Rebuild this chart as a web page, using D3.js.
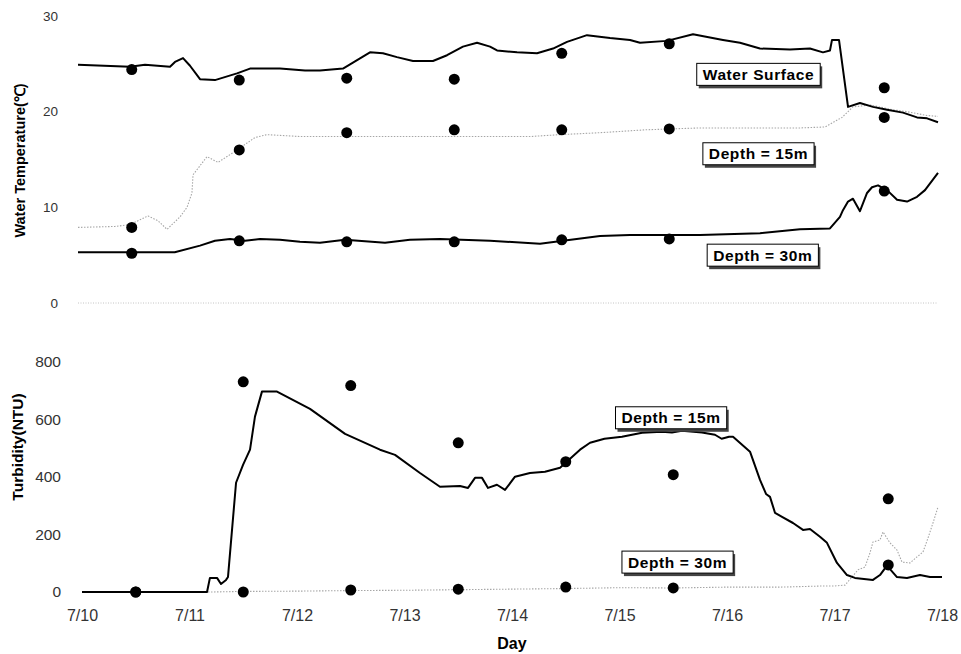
<!DOCTYPE html>
<html>
<head>
<meta charset="utf-8">
<script src="https://cdn.jsdelivr.net/npm/d3@7"></script>
<style>
  body { margin: 0; background: #fff; }
  svg { display: block; }
  text { font-family: Arial, "Liberation Sans", sans-serif; }
</style>
</head>
<body>
<svg id="chart" width="961" height="654"></svg>
<script>
// ---- axis labels ----
const dayLabels = ["7/10", "7/11", "7/12", "7/13", "7/14", "7/15", "7/16", "7/17", "7/18"];
const tempTicks = [0, 10, 20, 30];
const turbTicks = [0, 200, 400, 600, 800];

// ---- continuous records: [days since 7/10 00:00, value] ----
const surfaceTemp = [
  [0, 24.9], [0.484, 24.7], [0.623, 24.9], [0.856, 24.7], [0.902, 25.2], [0.977, 25.6],
  [1.042, 24.8], [1.135, 23.4], [1.274, 23.3], [1.479, 24.0], [1.6, 24.5], [1.879, 24.5],
  [2.112, 24.3], [2.251, 24.3], [2.465, 24.5], [2.716, 26.2], [2.837, 26.1], [2.967, 25.7],
  [3.116, 25.3], [3.302, 25.3], [3.433, 25.9], [3.581, 26.8], [3.712, 27.2], [3.833, 26.8],
  [3.898, 26.4], [4.084, 26.2], [4.27, 26.1], [4.419, 26.6], [4.549, 27.3], [4.735, 28.0],
  [4.949, 27.7], [5.135, 27.5], [5.228, 27.2], [5.479, 27.4], [5.721, 28.1], [6.0, 27.5],
  [6.158, 27.2], [6.344, 26.6], [6.623, 26.5], [6.809, 26.6], [6.93, 26.2], [6.995, 26.4],
  [7.014, 27.5], [7.079, 27.5], [7.163, 20.5], [7.274, 20.9], [7.395, 20.5], [7.526, 20.2],
  [7.674, 19.9], [7.805, 19.4], [7.898, 19.3], [8.0, 18.9]
];
const temp15m = [
  [0, 7.9], [0.344, 8.0], [0.484, 8.2], [0.651, 9.1], [0.744, 8.6], [0.828, 7.7],
  [0.949, 9.0], [1.014, 10.0], [1.06, 11.5], [1.07, 13.4], [1.2, 15.3], [1.302, 14.7],
  [1.44, 15.7], [1.647, 17.3], [1.758, 17.6], [2.065, 17.4], [3.181, 17.4], [4.205, 17.4],
  [4.484, 17.6], [4.856, 17.8], [5.274, 18.1], [5.786, 18.3], [6.716, 18.3], [6.95, 18.4],
  [7.107, 19.4], [7.209, 20.5], [7.372, 20.7], [7.581, 20.2], [7.712, 20.0], [7.898, 19.6],
  [8.0, 19.5]
];
const temp30m = [
  [0, 5.3], [0.9, 5.3], [1.135, 6.0], [1.274, 6.5], [1.414, 6.7], [1.553, 6.5],
  [1.693, 6.7], [1.879, 6.6], [2.065, 6.4], [2.251, 6.3], [2.484, 6.6], [2.856, 6.3],
  [3.088, 6.6], [3.367, 6.7], [3.833, 6.5], [4.298, 6.2], [4.512, 6.5], [4.856, 7.0],
  [5.135, 7.1], [5.786, 7.1], [6.344, 7.3], [6.716, 7.7], [6.995, 7.8], [7.088, 9.0],
  [7.116, 9.7], [7.163, 10.6], [7.209, 10.9], [7.274, 9.6], [7.34, 11.5], [7.386, 12.1],
  [7.442, 12.3], [7.526, 11.8], [7.619, 10.8], [7.712, 10.6], [7.805, 11.1], [7.879, 11.8],
  [8.0, 13.6]
];
const turb15m = [
  [0, 0], [1.163, 0], [1.19, 49], [1.256, 49], [1.293, 28], [1.34, 42], [1.358, 52],
  [1.433, 380], [1.498, 442], [1.563, 495], [1.609, 610], [1.674, 697], [1.814, 697],
  [2.121, 637], [2.447, 550], [2.772, 495], [2.912, 477], [3.144, 414], [3.33, 366],
  [3.516, 369], [3.591, 362], [3.656, 397], [3.721, 397], [3.777, 362], [3.86, 373],
  [3.935, 355], [4.028, 401], [4.167, 414], [4.307, 418], [4.447, 432], [4.633, 495],
  [4.726, 519], [4.86, 533], [5.023, 540], [5.21, 554], [5.395, 557], [5.488, 555],
  [5.581, 561], [5.767, 555], [5.888, 547], [5.95, 533], [6.019, 540], [6.056, 540],
  [6.214, 488], [6.307, 390], [6.363, 341], [6.4, 331], [6.447, 275], [6.512, 261],
  [6.614, 240], [6.707, 216], [6.772, 219], [6.865, 192], [6.93, 171], [7.023, 101],
  [7.116, 59], [7.19, 49], [7.358, 42], [7.423, 59], [7.488, 92], [7.581, 52],
  [7.674, 49], [7.795, 59], [7.888, 52], [8.0, 52]
];
const turb30m = [
  [0, 0], [1.2, 0], [1.5, 2], [2.0, 3], [2.5, 5], [3.0, 6], [3.5, 8], [4.0, 10],
  [4.5, 12], [5.0, 15], [5.5, 14], [6.0, 17], [6.5, 17], [6.9, 21], [7.0, 21],
  [7.098, 24], [7.219, 77], [7.284, 87], [7.33, 136], [7.358, 174], [7.423, 181],
  [7.451, 209], [7.516, 171], [7.581, 146], [7.628, 104], [7.702, 101], [7.767, 122],
  [7.823, 139], [7.87, 188], [7.916, 240], [7.963, 296]
];

// ---- sampled measurements ----
const sampleDays = [0.5, 1.5, 2.5, 3.5, 4.5, 5.5, 7.5];
const surfaceSampled = [24.4, 23.3, 23.5, 23.4, 26.1, 27.1, 22.5];
const temp15mSampled = [7.9, 16.0, 17.8, 18.1, 18.1, 18.2, 19.4];
const temp30mSampled = [5.2, 6.5, 6.4, 6.4, 6.6, 6.7, 11.7];
const turb15mSampled = [0, 731, 718, 519, 453, 408, 324];
const turb30mSampled = [0, 0, 7, 10, 17, 14, 94];

const svg = d3.select("#chart");

// ---- scales ----
const xTop = d3.scaleLinear().domain([0, 8]).range([78, 938]);
const yTop = d3.scaleLinear().domain([0, 30]).range([303, 16]);
const xBot = d3.scaleLinear().domain([0, 8]).range([82, 942]);
const yBot = d3.scaleLinear().domain([0, 800]).range([592, 362]);

function drawLine(g, data, x, y, style) {
  const line = d3.line().x(d => x(d[0])).y(d => y(d[1])).curve(d3.curveLinear);
  g.append("path").datum(data)
    .attr("d", line)
    .attr("fill", "none")
    .attr("stroke", style.color)
    .attr("stroke-width", style.width)
    .attr("stroke-dasharray", style.dash || null)
    .attr("stroke-linejoin", "round");
}

function drawDots(g, days, values, x, y) {
  g.selectAll(null).data(days.map((d, i) => [d, values[i]])).enter()
    .append("circle")
    .attr("cx", d => x(d[0]))
    .attr("cy", d => y(d[1]))
    .attr("r", 5.5)
    .attr("fill", "#000");
}

// boxed series label with a dark drop shadow
function drawTag(parent, cx, cy, label, size) {
  const g = parent.append("g");
  const shadow = g.append("rect").attr("fill", "#444");
  const box = g.append("rect").attr("fill", "#fff").attr("stroke", "#000").attr("stroke-width", 1);
  const t = g.append("text")
    .attr("x", cx).attr("y", cy)
    .attr("text-anchor", "middle")
    .attr("dominant-baseline", "central")
    .attr("font-size", size)
    .attr("font-weight", "bold")
    .attr("letter-spacing", 0.6)
    .attr("fill", "#000")
    .text(label);
  const bb = t.node().getBBox();
  const padX = 6, w = bb.width + padX * 2, h = 22;
  shadow.attr("x", cx - w / 2 + 2).attr("y", cy - h / 2 + 3).attr("width", w).attr("height", h);
  box.attr("x", cx - w / 2).attr("y", cy - h / 2).attr("width", w).attr("height", h);
}

// ================= Water temperature panel =================
const tempPanel = svg.append("g");

// faint zero reference line
tempPanel.append("line")
  .attr("x1", xTop(0)).attr("x2", xTop(8))
  .attr("y1", yTop(0)).attr("y2", yTop(0))
  .attr("stroke", "#c4c4c4").attr("stroke-width", 1)
  .attr("stroke-dasharray", "1,1.5");

const yAxisTop = d3.axisLeft(yTop).tickValues(tempTicks).tickSize(0).tickPadding(20);
tempPanel.append("g").attr("transform", `translate(${xTop(0)},0)`).call(yAxisTop)
  .call(g => g.select(".domain").remove())
  .call(g => g.selectAll("text").attr("font-size", 13.5).attr("fill", "#333")
    .attr("font-family", "Arial, 'Liberation Sans', sans-serif"));

tempPanel.append("text")
  .attr("transform", `translate(20,${(yTop(0) + yTop(30)) / 2 + 1}) rotate(-90)`)
  .attr("text-anchor", "middle")
  .attr("dominant-baseline", "central")
  .attr("font-size", 14.5)
  .attr("font-weight", "bold")
  .text("Water Temperature(℃)");

drawLine(tempPanel, temp15m, xTop, yTop, { color: "#a6a6a6", width: 1.1, dash: "1.5,1.5" });
drawLine(tempPanel, surfaceTemp, xTop, yTop, { color: "#000", width: 2 });
drawLine(tempPanel, temp30m, xTop, yTop, { color: "#000", width: 2 });

drawDots(tempPanel, sampleDays, surfaceSampled, xTop, yTop);
drawDots(tempPanel, sampleDays, temp15mSampled, xTop, yTop);
drawDots(tempPanel, sampleDays, temp30mSampled, xTop, yTop);

drawTag(tempPanel, xTop(6.33), yTop(23.9), "Water Surface", 15.5);
drawTag(tempPanel, xTop(6.33), yTop(15.6), "Depth = 15m", 15.5);
drawTag(tempPanel, xTop(6.37), yTop(5.0), "Depth = 30m", 15.5);

// ================= Turbidity panel =================
const turbPanel = svg.append("g");

const yAxisBot = d3.axisLeft(yBot).tickValues(turbTicks).tickSize(0).tickPadding(21);
turbPanel.append("g").attr("transform", `translate(${xBot(0)},0)`).call(yAxisBot)
  .call(g => g.select(".domain").remove())
  .call(g => g.selectAll("text").attr("font-size", 15.5).attr("fill", "#333")
    .attr("font-family", "Arial, 'Liberation Sans', sans-serif"));

const xAxisBot = d3.axisBottom(xBot).tickValues(d3.range(dayLabels.length))
  .tickFormat(i => dayLabels[i]).tickSize(0).tickPadding(18);
turbPanel.append("g").attr("transform", `translate(0,${yBot(0)})`).call(xAxisBot)
  .call(g => g.select(".domain").remove())
  .call(g => g.selectAll("text").attr("font-size", 16).attr("fill", "#333")
    .attr("font-family", "Arial, 'Liberation Sans', sans-serif"));

turbPanel.append("text")
  .attr("transform", `translate(17,447) rotate(-90)`)
  .attr("text-anchor", "middle")
  .attr("dominant-baseline", "central")
  .attr("font-size", 15.5)
  .attr("font-weight", "bold")
  .text("Turbidity(NTU)");

turbPanel.append("text")
  .attr("x", 512).attr("y", 643)
  .attr("text-anchor", "middle")
  .attr("dominant-baseline", "central")
  .attr("font-size", 16)
  .attr("font-weight", "bold")
  .text("Day");

drawLine(turbPanel, turb30m, xBot, yBot, { color: "#a6a6a6", width: 1.1, dash: "1.5,1.5" });
drawLine(turbPanel, turb15m, xBot, yBot, { color: "#000", width: 2 });

drawDots(turbPanel, sampleDays, turb15mSampled, xBot, yBot);
drawDots(turbPanel, sampleDays, turb30mSampled, xBot, yBot);

drawTag(turbPanel, xBot(5.48), yBot(606), "Depth = 15m", 15.5);
drawTag(turbPanel, xBot(5.54), yBot(104), "Depth = 30m", 15.5);
</script>
</body>
</html>
